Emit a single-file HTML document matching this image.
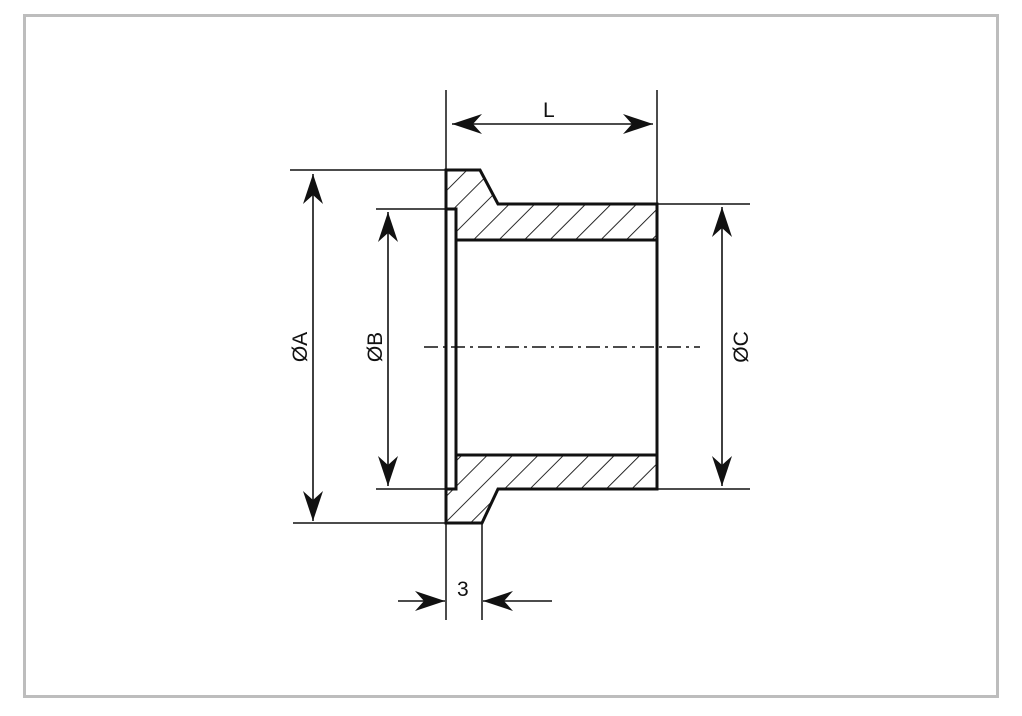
<!DOCTYPE html>
<html><head><meta charset="utf-8"><style>
html,body{margin:0;padding:0;background:#fff;}
svg{display:block;}
text{font-family:"Liberation Sans",sans-serif;font-size:21px;fill:#111;}
</style></head><body>
<svg width="1022" height="716" viewBox="0 0 1022 716" xmlns="http://www.w3.org/2000/svg">
<defs>
<pattern id="h" patternUnits="userSpaceOnUse" width="18" height="18" patternTransform="rotate(45)">
<line x1="0" y1="0" x2="0" y2="18" stroke="#111" stroke-width="1.8"/>
</pattern>
<marker id="a" viewBox="0 0 30 20" refX="30" refY="10" markerWidth="30" markerHeight="20" markerUnits="userSpaceOnUse" orient="auto-start-reverse">
<path d="M0,0 L30,10 L0,20 L9,10 Z" fill="#111"/>
</marker>
</defs>
<rect x="24.5" y="15.5" width="973" height="681" fill="none" stroke="#bdbdbd" stroke-width="3"/>
<g stroke="#111" fill="none">
<line x1="446" y1="90" x2="446" y2="620" stroke-width="1.5"/>
<line x1="657" y1="90" x2="657" y2="205" stroke-width="1.5"/>
<line x1="482" y1="523" x2="482" y2="620" stroke-width="1.5"/>
<line x1="290" y1="170" x2="446" y2="170" stroke-width="1.5"/>
<line x1="293" y1="523" x2="446" y2="523" stroke-width="1.5"/>
<line x1="376" y1="209" x2="456" y2="209" stroke-width="1.5"/>
<line x1="376" y1="489" x2="456" y2="489" stroke-width="1.5"/>
<line x1="657" y1="204" x2="750" y2="204" stroke-width="1.5"/>
<line x1="657" y1="489" x2="750" y2="489" stroke-width="1.5"/>
<path d="M446,170 L480,170 L498,204 L657,204 L657,240 L456,240 L456,209 L446,209 Z" fill="url(#h)" stroke-width="3"/>
<path d="M456,455 L657,455 L657,489 L498,489 L482,523 L446,523 L446,489 L456,489 Z" fill="url(#h)" stroke-width="3"/>
<rect x="446" y="209" width="10" height="280" stroke-width="3" fill="#fff"/>
<line x1="657" y1="240" x2="657" y2="455" stroke-width="3"/>
<line x1="456" y1="240" x2="456" y2="455" stroke-width="3"/>
<line x1="424" y1="347" x2="700" y2="347" stroke-width="1.6" stroke-dasharray="14,5,3,5"/>
<line x1="452" y1="124" x2="653" y2="124" stroke-width="1.6" marker-start="url(#a)" marker-end="url(#a)"/>
<line x1="313" y1="174" x2="313" y2="521" stroke-width="1.6" marker-start="url(#a)" marker-end="url(#a)"/>
<line x1="388" y1="212" x2="388" y2="486" stroke-width="1.6" marker-start="url(#a)" marker-end="url(#a)"/>
<line x1="722" y1="207" x2="722" y2="486" stroke-width="1.6" marker-start="url(#a)" marker-end="url(#a)"/>
<line x1="398" y1="601" x2="445" y2="601" stroke-width="1.6" marker-end="url(#a)"/>
<line x1="552" y1="601" x2="483" y2="601" stroke-width="1.6" marker-end="url(#a)"/>
</g>
<text x="543" y="117">L</text>
<text x="457" y="596">3</text>
<text transform="translate(307,347) rotate(-90)" text-anchor="middle">ØA</text>
<text transform="translate(382,347) rotate(-90)" text-anchor="middle">ØB</text>
<text transform="translate(748,347) rotate(-90)" text-anchor="middle">ØC</text>
</svg>
</body></html>
